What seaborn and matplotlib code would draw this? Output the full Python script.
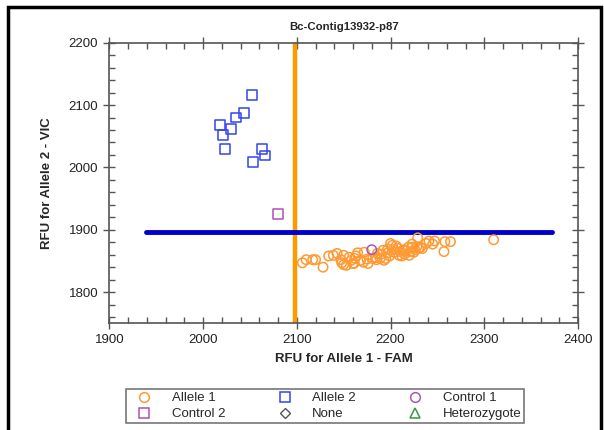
import matplotlib
matplotlib.use("Agg")
import matplotlib.pyplot as plt
from matplotlib.lines import Line2D
from matplotlib.patches import Rectangle
from matplotlib.ticker import MultipleLocator
import seaborn as sns

# Allele 1 cluster (orange circles)
allele1_x = [2106, 2110, 2117, 2120, 2128, 2134, 2139, 2143, 2150, 2148, 2153, 2156,
             2158, 2160, 2165, 2168, 2171, 2172, 2175, 2181, 2184, 2186, 2189, 2190,
             2192, 2193, 2195, 2197, 2197, 2200, 2202, 2203, 2204, 2206, 2208, 2209,
             2210, 2214, 2214, 2215, 2219, 2220, 2221, 2223, 2223, 2225, 2226, 2229,
             2230, 2232, 2234, 2241, 2245, 2247, 2257, 2258, 2264, 2310, 2150, 2161,
             2163, 2176, 2185, 2199, 2212, 2216, 2228, 2238, 2147, 2162]
allele1_y = [1847, 1852, 1852, 1852, 1840, 1858, 1859, 1862, 1859, 1847, 1843, 1856,
             1851, 1846, 1863, 1851, 1848, 1864, 1853, 1854, 1856, 1862, 1854, 1861,
             1867, 1851, 1854, 1863, 1869, 1878, 1875, 1868, 1864, 1874, 1870, 1859,
             1865, 1868, 1867, 1861, 1872, 1859, 1865, 1877, 1872, 1864, 1868, 1887,
             1870, 1872, 1870, 1882, 1877, 1882, 1865, 1881, 1881, 1884, 1844, 1846,
             1858, 1846, 1852, 1858, 1858, 1866, 1873, 1878, 1852, 1854]

# Allele 2 cluster (blue squares)
allele2_x = [2052, 2044, 2035, 2018, 2030, 2021, 2023, 2063, 2066, 2053]
allele2_y = [2116, 2087, 2080, 2068, 2062, 2052, 2029, 2030, 2019, 2009]

# controls
control1_x = [2180]
control1_y = [1868]
control2_x = [2080]
control2_y = [1925]

# threshold lines
fam_cut = 2098
vic_cut = 1897
vic_cut_span = [1939, 2372]

legend_labels = ["Allele 1", "Allele 2", "Control 1", "Control 2", "None", "Heterozygote"]

sns.set_theme(style="white")
plt.rcParams["font.family"] = ["Liberation Sans", "DejaVu Sans"]

fig = plt.figure(figsize=(6.04, 4.30), dpi=100)
ax = fig.add_axes([109.3 / 604, 1 - 323.3 / 430, (578 - 109.3) / 604, (323.3 - 42.7) / 430])


def hollow(x, y, marker, color, size):
    sns.scatterplot(x=x, y=y, marker=marker, s=size, color=color, linewidth=1.1, ax=ax,
                    zorder=3, legend=False)
    coll = ax.collections[-1]
    coll.set_facecolor("none")
    coll.set_edgecolor(color)


ax.axvline(fam_cut, color="#FF9900", lw=3.2, zorder=2)
ax.plot(vic_cut_span, [vic_cut, vic_cut], color="#0000CC", lw=3.5, zorder=2, clip_on=False)

hollow(allele1_x, allele1_y, "o", "#FF9933", 46)
hollow(allele2_x, allele2_y, "s", "#3344EE", 50)
hollow(control1_x, control1_y, "o", "#AA55BB", 46)
hollow(control2_x, control2_y, "s", "#B050B0", 50)

ax.set_xlim(1900, 2400)
ax.set_ylim(1750, 2200)
ax.xaxis.set_major_locator(MultipleLocator(100))
ax.xaxis.set_minor_locator(MultipleLocator(20))
ax.yaxis.set_major_locator(MultipleLocator(100))
ax.yaxis.set_minor_locator(MultipleLocator(20))
ax.set_yticks([1800, 1900, 2000, 2100, 2200])

for s in ax.spines.values():
    s.set_color("#555555")
    s.set_linewidth(1.2)
ax.tick_params(which="major", direction="inout", length=8, width=1, color="#555555",
               labelsize=9.5, labelcolor="#222222", top=True, right=True, bottom=True, left=True)
ax.tick_params(which="minor", direction="in", length=4, width=1, color="#555555",
               top=True, right=True, bottom=True, left=True)
ax.tick_params(axis="y", pad=4)
ax.tick_params(axis="x", pad=4)
ax.set_xlabel("RFU for Allele 1 - FAM", fontsize=9.5, fontweight="bold", labelpad=5)
ax.set_ylabel("RFU for Allele 2 - VIC", fontsize=9.5, fontweight="bold", labelpad=11)
ax.set_title("Bc-Contig13932-p87", fontsize=8.2, fontweight="bold", pad=9)

handles = [
    Line2D([], [], ls="", marker="o", mfc="none", mec="#FF9933", ms=7, mew=1.1),
    Line2D([], [], ls="", marker="s", mfc="none", mec="#3344EE", ms=7, mew=1.1),
    Line2D([], [], ls="", marker="o", mfc="none", mec="#AA55BB", ms=7, mew=1.1),
    Line2D([], [], ls="", marker="s", mfc="none", mec="#B050B0", ms=7, mew=1.1),
    Line2D([], [], ls="", marker="D", mfc="none", mec="#555555", ms=5, mew=1.0),
    Line2D([], [], ls="", marker="^", mfc="none", mec="#339944", ms=7, mew=1.1),
]
# matplotlib fills legend columns first; reorder so rows read like the reference
order = [0, 3, 1, 4, 2, 5]
leg = fig.legend([handles[i] for i in order], [legend_labels[i] for i in order], ncol=3,
                 loc="lower left",
                 bbox_to_anchor=(126 / 604, 1 - 423 / 430, 398 / 604, 34 / 430), mode="expand",
                 fontsize=9.5, frameon=True, fancybox=False, borderpad=0.2, labelspacing=0.3,
                 handletextpad=0.9, handlelength=2.4, borderaxespad=0)
leg.get_frame().set_edgecolor("#555555")
leg.get_frame().set_linewidth(1.2)

fig.patches.append(Rectangle((8 / 604, -0.1), (601 - 8) / 604, 1.1 - 7 / 430, transform=fig.transFigure,
                             fill=False, edgecolor="black", lw=2.5))

fig.savefig("out.png", dpi=100)
